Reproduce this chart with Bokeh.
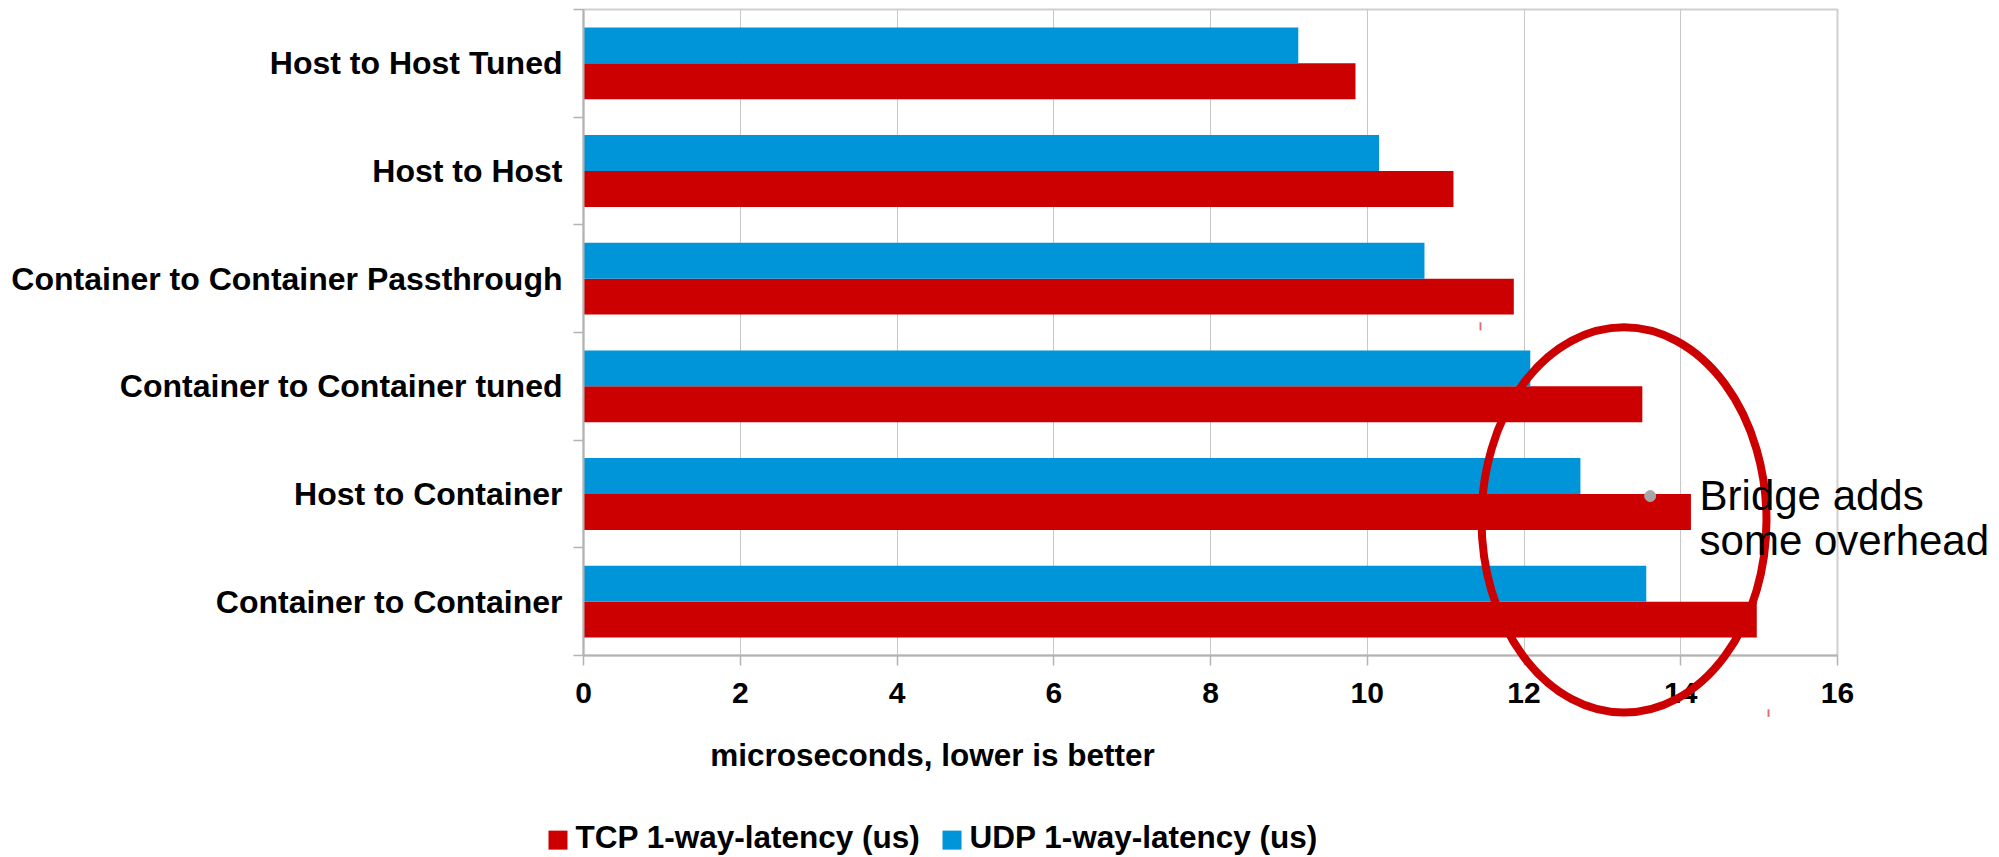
from bokeh.plotting import figure
from bokeh.models import Range1d, FixedTicker, ColumnDataSource
from bokeh.core.properties import value
from bokeh.embed import file_html
from bokeh.resources import INLINE

# ---- data -------------------------------------------------------------
categories = [
    "Host to Host Tuned",
    "Host to Host",
    "Container to Container Passthrough",
    "Container to Container tuned",
    "Host to Container",
    "Container to Container",
]
tcp_latency = [9.85, 11.10, 11.87, 13.51, 14.13, 14.97]
udp_latency = [9.12, 10.15, 10.73, 12.08, 12.72, 13.56]
series_names = ["TCP 1-way-latency (us)", "UDP 1-way-latency (us)"]
x_ticks = [0, 2, 4, 6, 8, 10, 12, 14, 16]
x_title = "microseconds, lower is better"
callout_lines = ["Bridge adds", "some overhead"]

TCP_COLOR = "#cc0000"
UDP_COLOR = "#0094d9"
AXIS_GREY = "#b3b3b3"
FONT = "Liberation Sans"

# rows counted from the bottom; first category sits at the top
n = len(categories)
rows = [n - 1 - k for k in range(n)]
src = ColumnDataSource(dict(
    cat=categories,
    tcp=tcp_latency,
    udp=udp_latency,
    tcp_y=[r + 1 / 3 for r in rows],
    udp_y=[r + 2 / 3 for r in rows],
))

p = figure(width=1999, height=857, output_backend="svg", toolbar_location=None,
           x_range=Range1d(0, 16), y_range=Range1d(0, n),
           min_border_left=583, min_border_right=162,
           min_border_top=9, min_border_bottom=202)
p.background_fill_color = "white"
p.border_fill_color = "white"
p.outline_line_color = "#d0d0d0"
p.outline_line_width = 2

p.hbar(y="tcp_y", left=0, right="tcp", height=1 / 3, source=src,
       fill_color=TCP_COLOR, line_color=None)
p.hbar(y="udp_y", left=0, right="udp", height=1 / 3, source=src,
       fill_color=UDP_COLOR, line_color=None)

# ---- grid / axes ------------------------------------------------------
p.ygrid.visible = False
p.xgrid.ticker = FixedTicker(ticks=x_ticks)
p.xgrid.grid_line_color = "#c8c8c8"
p.xgrid.grid_line_width = 1

xa = p.xaxis[0]
xa.ticker = FixedTicker(ticks=x_ticks)
xa.axis_line_color = AXIS_GREY
xa.axis_line_width = 2
xa.major_tick_line_color = AXIS_GREY
xa.major_tick_line_width = 1.5
xa.major_tick_out = 10
xa.major_tick_in = 0
xa.minor_tick_out = 0
xa.minor_tick_in = 0
xa.major_label_text_font = FONT
xa.major_label_text_font_style = "bold"
xa.major_label_text_font_size = "30px"
xa.major_label_text_color = "black"
xa.major_label_standoff = 17

ya = p.yaxis[0]
ya.ticker = FixedTicker(ticks=[r + 0.5 for r in rows],
                        minor_ticks=list(range(n + 1)))
ya.major_label_overrides = {r + 0.5: c for r, c in zip(rows, categories)}
ya.axis_line_color = AXIS_GREY
ya.axis_line_width = 2
ya.major_tick_out = 0
ya.major_tick_in = 0
ya.minor_tick_out = 10
ya.minor_tick_in = 0
ya.minor_tick_line_color = AXIS_GREY
ya.minor_tick_line_width = 1.5
ya.major_label_text_font = FONT
ya.major_label_text_font_style = "bold"
ya.major_label_text_font_size = "32px"
ya.major_label_text_color = "black"
ya.major_label_standoff = 11

# overlay-level glyphs are drawn unclipped, so they may sit outside the frame
OVER = dict(level="overlay")

# x axis title, set slightly left of the axis centre
p.text(x=[4.453], y=[-0.922], text=[x_title], text_align="center",
       text_baseline="alphabetic", text_font=value(FONT),
       text_font_style="bold", text_font_size="31.5px", text_color="black",
       **OVER)

# ---- callout: ellipse around the bridged cases ------------------------
p.ellipse(x=[13.276], y=[1.259], width=[3.636], height=[3.578],
          fill_color=None, line_color=TCP_COLOR, line_width=8, **OVER)
p.segment(x0=[11.445, 15.12], y0=[3.095, -0.50], x1=[11.445, 15.12],
          y1=[3.02, -0.57], line_color="#e07070", line_width=2, **OVER)
p.scatter(x=[13.61], y=[1.481], size=11, color="#a6a6a6", **OVER)
p.text(x=[14.24, 14.24], y=[1.490, 1.069], text=callout_lines,
       text_align="left", text_baseline="alphabetic", text_font=value(FONT),
       text_font_size="42px", text_color="black", **OVER)

# ---- legend below the axis title --------------------------------------
p.rect(x=[-0.3254, 4.702], y=[-1.7147, -1.7147], width=19, height=19,
       width_units="screen", height_units="screen",
       fill_color=[TCP_COLOR, UDP_COLOR], line_color=None, **OVER)
p.text(x=[-0.102, 4.925], y=[-1.686, -1.686], text=series_names,
       text_align="left", text_baseline="alphabetic", text_font=value(FONT),
       text_font_style="bold", text_font_size="31.5px", text_color="black",
       **OVER)

open("out.html", "w").write(file_html(p, INLINE))
